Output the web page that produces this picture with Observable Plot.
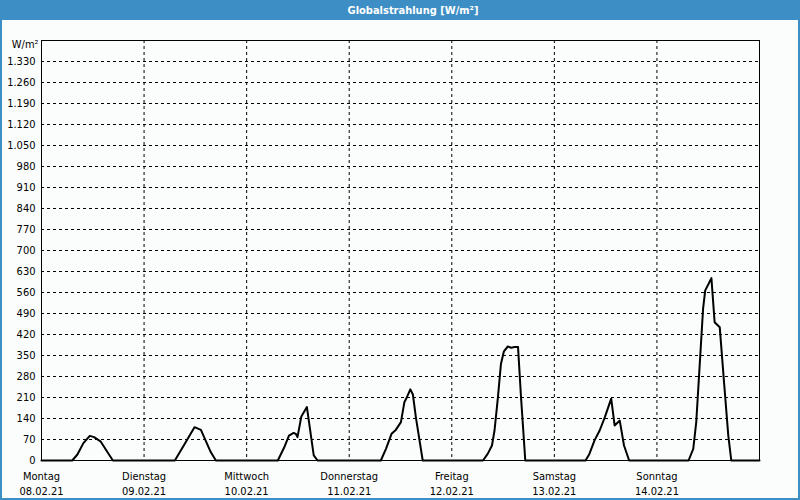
<!DOCTYPE html>
<html>
<head>
<meta charset="utf-8">
<script src="https://cdn.jsdelivr.net/npm/d3@7"></script>
<script src="https://cdn.jsdelivr.net/npm/@observablehq/plot@0.6"></script>
<style>
  html, body { margin: 0; padding: 0; background: #fbfdfc; }
  #win { position: relative; width: 800px; height: 500px; overflow: hidden; background: #fbfdfc;
         font-family: "DejaVu Sans Condensed", "Liberation Sans", sans-serif; }
  #titlebar { position: absolute; left: 0; top: 0; width: 800px; height: 20px; background: #3d8ec4; }
  #titlebar span { position: absolute; left: 413px; top: 10px; transform: translate(-50%, -50%);
         color: #fff; font-weight: bold; font-size: 11px; white-space: nowrap; }
  #chart { position: absolute; left: 0; top: 20px; }
  #border { position: absolute; left: 0; top: 0; width: 800px; height: 500px; box-sizing: border-box;
         border: 2px solid #3d8ec4; border-top: none; pointer-events: none; }
</style>
</head>
<body>
<div id="win">
  <div id="titlebar"><span>Globalstrahlung [W/m²]</span></div>
  <div id="chart"></div>
  <div id="border"></div>
</div>
<script>
// Day labels
const dayNames = ["Montag", "Dienstag", "Mittwoch", "Donnerstag", "Freitag", "Samstag", "Sonntag"];
const dayDates = ["08.02.21", "09.02.21", "10.02.21", "11.02.21", "12.02.21", "13.02.21", "14.02.21"];

// Hours of day (local) and irradiance values [W/m²] for each day
const hoursMo = [7.2, 8.4, 9.8, 11.3, 12.3, 13.8, 16.7];
const valuesMo = [0, 20, 58, 82, 78, 64, 0];
const hoursDi = [7.2, 9.7, 11.8, 13.3, 15.6, 16.8];
const valuesDi = [0, 60, 111, 102, 28, 0];
const hoursMi = [7.3, 8.8, 9.9, 11.0, 11.5, 11.9, 12.8, 14.1, 15.7, 16.6];
const valuesMi = [0, 44, 83, 92, 89, 78, 147, 178, 17, 0];
const hoursDo = [7.4, 8.6, 9.9, 10.9, 12.1, 12.9, 13.5, 14.3, 14.9, 15.6, 17.2];
const valuesDo = [0, 39, 89, 102, 128, 194, 211, 237, 220, 144, 0];
const hoursFr = [7.3, 8.4, 9.4, 10.0, 10.8, 11.5, 12.2, 13.1, 13.9, 14.7, 15.5, 16.2, 17.2];
const valuesFr = [0, 22, 50, 100, 211, 322, 364, 380, 376, 378, 378, 211, 0];
const hoursSa = [7.3, 8.2, 9.4, 10.6, 11.8, 13.3, 14.1, 15.3, 16.3, 17.5];
const valuesSa = [0, 22, 67, 100, 144, 206, 117, 133, 50, 0];
const hoursSo = [7.4, 8.5, 9.2, 10.0, 10.8, 11.3, 12.1, 12.75, 13.5, 14.7, 15.7, 16.7, 17.4];
const valuesSo = [0, 39, 128, 317, 506, 567, 589, 608, 461, 444, 261, 83, 0];

const yTicks = [0, 70, 140, 210, 280, 350, 420, 490, 560, 630, 700, 770, 840, 910, 980,
                1050, 1120, 1190, 1260, 1330];

const hoursAll = [hoursMo, hoursDi, hoursMi, hoursDo, hoursFr, hoursSa, hoursSo];
const valuesAll = [valuesMo, valuesDi, valuesMi, valuesDo, valuesFr, valuesSa, valuesSo];

const start = new Date(Date.UTC(2021, 1, 8));
const end = new Date(Date.UTC(2021, 1, 15));
const H = 3600e3;

const data = [{time: start, value: 0}];
hoursAll.forEach((hs, d) => {
  hs.forEach((h, i) => data.push({time: new Date(+start + (d * 24 + h) * H), value: valuesAll[d][i]}));
});
data.push({time: end, value: 0});

const dayTicks = d3.utcDay.range(start, end);
const gridDays = dayTicks.slice(1);

const de = d3.formatLocale({decimal: ",", thousands: ".", grouping: [3], currency: ["", ""]});
const fmt = de.format(",");

const font = '"DejaVu Sans Condensed", "Liberation Sans", sans-serif';

const chart = Plot.plot({
  width: 800,
  height: 480,
  marginTop: 20,
  marginLeft: 41,
  marginRight: 41,
  marginBottom: 40,
  style: {background: "transparent", fontFamily: font, fontSize: "11px", color: "black"},
  x: {type: "utc", domain: [start, end]},
  y: {domain: [0, 1400]},
  marks: [
    Plot.gridY(yTicks.filter(v => v > 0), {stroke: "black", strokeOpacity: 1, strokeDasharray: "3,3"}),
    Plot.gridX(gridDays, {stroke: "black", strokeOpacity: 1, strokeDasharray: "3,3"}),
    Plot.axisY(yTicks, {tickSize: 0, tickPadding: 6, tickFormat: fmt, label: null, fill: "black"}),
    Plot.axisX(dayTicks, {
      tickSize: 0, tickPadding: 9, label: null, fill: "black", lineHeight: 1.36,
      tickFormat: d => {
        const i = d3.utcDay.count(start, d);
        return dayNames[i] + "\n" + dayDates[i];
      }
    }),
    Plot.frame({stroke: "black"}),
    Plot.line(data, {x: "time", y: "value", stroke: "black", strokeWidth: 2}),
    Plot.text(["W/m²"], {frameAnchor: "top-left", dx: -3, dy: 4, lineAnchor: "middle", textAnchor: "end", fill: "black"})
  ]
});
document.getElementById("chart").appendChild(chart);
</script>
</body>
</html>
